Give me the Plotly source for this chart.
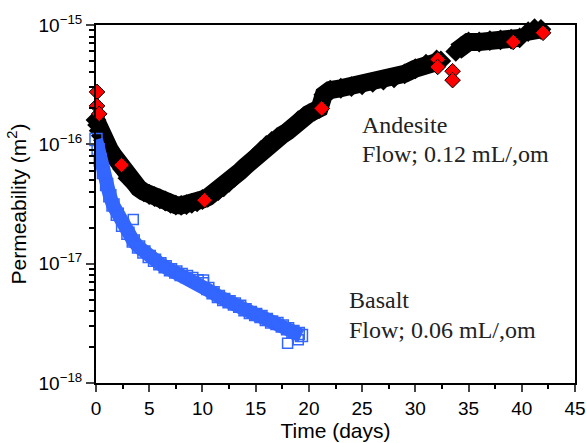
import plotly.graph_objects as go

# Andesite (black band of diamonds), None breaks the band where the data jumps
t_and = [0.0, 0.15, 0.3, 0.5, 0.7, 1.0, 1.3, 1.6, 2.0, 2.5, 3.0, 3.5, 4.0, 4.5, 5.0, 5.5,
         6.0, 6.5, 7.0, 7.5, 8.0, 8.5, 9.0, 9.5, 10.0, 10.5, 11.0, 11.5, 12.0, 12.5, 13.0,
         13.5, 14.0, 14.5, 15.0, 15.5, 16.0, 16.5, 17.0, 17.5, 18.0, 18.5, 19.0, 19.5, 20.0,
         20.5, 21.0, 21.4, 22.0, 23.0, 24.0, 25.0, 26.0, 27.0, 28.0, 29.0, 30.0, 31.0, 32.0,
         32.4, None, 33.8, 34.3, 35.0, 36.0, 37.0, 38.0, 39.0, 39.8, None, 40.6, 41.2, 41.8]
k_and = [1.6e-16, 1.45e-16, 1.3e-16, 1.18e-16, 1.08e-16, 9.8e-17, 9.0e-17, 8.2e-17, 7.2e-17,
         6.2e-17, 5.2e-17, 4.7e-17, 4.3e-17, 4.0e-17, 3.8e-17, 3.65e-17, 3.5e-17, 3.35e-17,
         3.2e-17, 3.1e-17, 3.08e-17, 3.12e-17, 3.2e-17, 3.3e-17, 3.45e-17, 3.6e-17, 3.85e-17,
         4.1e-17, 4.4e-17, 4.8e-17, 5.3e-17, 5.9e-17, 6.5e-17, 7.2e-17, 8.0e-17, 8.9e-17,
         9.8e-17, 1.06e-16, 1.13e-16, 1.2e-16, 1.28e-16, 1.42e-16, 1.58e-16, 1.7e-16, 1.8e-16,
         1.9e-16, 2.0e-16, 2.6e-16, 2.85e-16, 2.95e-16, 3.05e-16, 3.15e-16, 3.3e-16, 3.45e-16,
         3.6e-16, 3.9e-16, 4.3e-16, 4.7e-16, 5.1e-16, 5.0e-16, None, 6.0e-16, 6.6e-16, 7.2e-16,
         7.2e-16, 7.4e-16, 7.5e-16, 7.6e-16, 7.8e-16, None, 8.8e-16, 9.3e-16, 9.2e-16]

# red diamonds that stand out from the band
t_red = [0.1, 0.1, 0.3, 2.4, 10.2, 21.2, 32.1, 32.1, 33.5, 33.5, 39.2, 42.0]
k_red = [2.75e-16, 2.1e-16, 1.8e-16, 6.7e-17, 3.4e-17, 2.0e-16, 5.15e-16, 4.45e-16,
         4.1e-16, 3.45e-16, 7.2e-16, 8.6e-16]

# Basalt (blue open squares)
t_bas = [0.0, 0.2, 0.4, 0.7, 1.0, 1.3, 1.6, 2.0, 2.5, 3.0, 3.5, 4.0, 4.5, 5.0, 5.5, 6.0,
         6.5, 7.0, 7.5, 8.0, 8.5, 9.0, 9.5, 10.0, 10.5, 11.0, 11.5, 12.0, 12.5, 13.0, 13.5,
         14.0, 14.5, 15.0, 15.5, 16.0, 16.5, 17.0, 17.5, 18.0, 18.5, 19.0, 19.3]
k_bas = [1.1e-16, 9.0e-17, 7.4e-17, 5.8e-17, 4.6e-17, 3.7e-17, 3.1e-17, 2.6e-17, 2.1e-17,
         1.8e-17, 1.55e-17, 1.38e-17, 1.25e-17, 1.15e-17, 1.07e-17, 1.0e-17, 9.4e-18, 8.9e-18,
         8.5e-18, 8.1e-18, 7.8e-18, 7.5e-18, 7.2e-18, 6.8e-18, 6.2e-18, 5.7e-18, 5.3e-18,
         5.0e-18, 4.8e-18, 4.6e-18, 4.4e-18, 4.1e-18, 3.9e-18, 3.75e-18, 3.6e-18, 3.4e-18,
         3.25e-18, 3.15e-18, 3.0e-18, 2.85e-18, 2.7e-18, 2.6e-18, 2.5e-18]

t_bas_out = [3.5, 10.1, 18.0, 19.0]
k_bas_out = [2.35e-17, 7.3e-18, 2.15e-18, 2.3e-18]

x_ticks = [0, 5, 10, 15, 20, 25, 30, 35, 40, 45]
y_ticks = [1e-18, 1e-17, 1e-16, 1e-15]
y_ticktext = ["10<sup>−18</sup>", "10<sup>−17</sup>", "10<sup>−16</sup>", "10<sup>−15</sup>"]

negro = "black"
azul = "#3366ff"
rojo = "#ff0000"

fig = go.Figure()

fig.add_trace(go.Scatter(
    x=t_and, y=k_and, mode="lines+markers",
    line=dict(color=negro, width=18),
    marker=dict(symbol="diamond", size=16, color=negro),
    cliponaxis=False, showlegend=False,
))
fig.add_trace(go.Scatter(
    x=t_red, y=k_red, mode="markers",
    marker=dict(symbol="diamond", size=12, color=rojo, line=dict(color=negro, width=1)),
    cliponaxis=False, showlegend=False,
))
fig.add_trace(go.Scatter(
    x=t_bas, y=k_bas, mode="lines+markers",
    line=dict(color=azul, width=14),
    marker=dict(symbol="square-open", size=12, color=azul, line=dict(width=1.5)),
    cliponaxis=False, showlegend=False,
))
fig.add_trace(go.Scatter(
    x=t_bas_out, y=k_bas_out, mode="markers",
    marker=dict(symbol="square-open", size=10, color=azul, line=dict(width=1.5)),
    cliponaxis=False, showlegend=False,
))

serif = dict(family="Liberation Serif", size=24, color="#222222")
notas = [
    (24.8, -15.84, "Andesite"), (24.8, -16.08, "Flow; 0.12 mL/,om"),
    (23.6, -17.305, "Basalt"), (23.6, -17.556, "Flow; 0.06 mL/,om"),
]
for x, y, txt in notas:
    fig.add_annotation(x=x, y=y, text=txt, showarrow=False, xanchor="left",
                       yanchor="middle", font=serif)

fig.update_xaxes(
    range=[0, 45], tickvals=x_ticks, ticks="outside", ticklen=7, tickwidth=2,
    showline=True, linecolor=negro, linewidth=2, mirror=True, showgrid=False, zeroline=False,
    tickfont=dict(family="Liberation Sans", size=19, color=negro), automargin=False,
    minor=dict(ticks="outside", dtick=2.5, ticklen=4, tickwidth=2, tickcolor=negro),
    title=dict(text="Time (days)", font=dict(family="Liberation Sans", size=21, color=negro),
               standoff=2),
)
fig.update_yaxes(
    type="log", range=[-18, -15], tickvals=y_ticks, ticktext=y_ticktext,
    ticks="outside", ticklen=8, tickwidth=2, automargin=False,
    showline=True, linecolor=negro, linewidth=2, mirror=True, showgrid=False, zeroline=False,
    tickfont=dict(family="Liberation Sans", size=19, color=negro),
    minor=dict(ticks="outside", ticklen=5, tickwidth=1.5, tickcolor=negro,
               tickvals=[m * 10.0 ** e for e in (-18, -17, -16) for m in range(2, 10)]),
    title=dict(text="Permeability (m<sup>2</sup>)",
               font=dict(family="Liberation Sans", size=21, color=negro), standoff=6),
)

fig.update_layout(
    width=586, height=443,
    margin=dict(l=96, r=11, t=25, b=60),
    plot_bgcolor="white", paper_bgcolor="white",
)

# quitar el margen del body para que la figura quede en (0, 0)
fig.write_html("out.html", config={"displayModeBar": False},
               post_script="document.body.style.margin='0px';")
